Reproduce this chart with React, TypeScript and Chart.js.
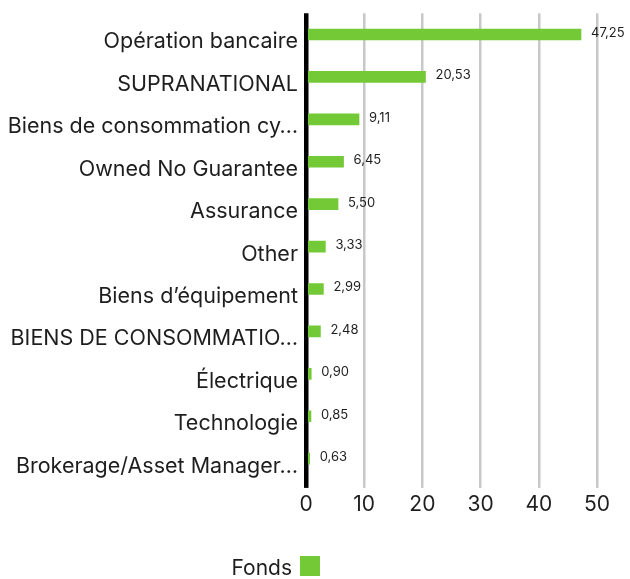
import React, { useEffect, useRef } from 'react';
import { Chart, registerables } from 'chart.js';

Chart.register(...registerables);

const categories = [
  'Opération bancaire',
  'SUPRANATIONAL',
  'Biens de consommation cy…',
  'Owned No Guarantee',
  'Assurance',
  'Other',
  'Biens d’équipement',
  'BIENS DE CONSOMMATIO…',
  'Électrique',
  'Technologie',
  'Brokerage/Asset Manager…',
];
const fondsValues = [47.25, 20.53, 9.11, 6.45, 5.5, 3.33, 2.99, 2.48, 0.9, 0.85, 0.63];
const xTickValues = [0, 10, 20, 30, 40, 50];
const seriesLabel = 'Fonds';

const GREEN = '#74C936';
const TEXT = '#1e1e1e';
const GRID = '#c8c8c8';
const FONT = 'Inter, "Noto Sans", sans-serif';

const fmt = (v: number) => v.toFixed(2).replace('.', ',');

export default function App() {
  const ref = useRef<HTMLCanvasElement>(null);

  useEffect(() => {
    const valueLabels = {
      id: 'valueLabels',
      afterDatasetsDraw(chart: any) {
        const ctx = chart.ctx;
        const meta = chart.getDatasetMeta(0);
        const data = chart.data.datasets[0].data as number[];
        ctx.save();
        ctx.font = `13px ${FONT}`;
        ctx.fillStyle = TEXT;
        ctx.textAlign = 'left';
        ctx.textBaseline = 'middle';
        meta.data.forEach((el: any, i: number) => {
          ctx.fillText(fmt(data[i]), el.x + 10, el.y - 1.5);
        });
        ctx.restore();
      },
    };

    const bottomLegend = {
      id: 'bottomLegend',
      afterDraw(chart: any) {
        const ctx = chart.ctx;
        const ds = chart.data.datasets[0];
        ctx.save();
        ctx.font = `21px ${FONT}`;
        ctx.fillStyle = TEXT;
        ctx.textAlign = 'right';
        ctx.textBaseline = 'alphabetic';
        ctx.fillText(ds.label, 292, 575);
        ctx.fillStyle = ds.backgroundColor;
        ctx.fillRect(300, 556, 20, 20);
        ctx.restore();
      },
    };

    const chart = new Chart(ref.current!, {
      type: 'bar',
      data: {
        labels: categories,
        datasets: [
          {
            label: seriesLabel,
            data: fondsValues,
            backgroundColor: GREEN,
            barThickness: 11,
          },
        ],
      },
      options: {
        indexAxis: 'y',
        animation: false,
        responsive: false,
        maintainAspectRatio: false,
        layout: { padding: { top: 13.3, right: 33, left: 0, bottom: 0 } },
        plugins: { legend: { display: false }, tooltip: { enabled: false } },
        scales: {
          x: {
            min: 0,
            max: 50,
            afterBuildTicks: (s: any) => {
              s.ticks = xTickValues.map((v) => ({ value: v }));
            },
            grid: {
              color: (c: any) => (c.tick && c.tick.value === 0 ? '#000' : GRID),
              lineWidth: (c: any) => (c.tick && c.tick.value === 0 ? 4.5 : 2.5),
              tickLength: 8,
              drawTicks: true,
            },
            border: { display: false },
            ticks: { font: { family: FONT, size: 21 }, color: TEXT, padding: 4, maxRotation: 0 },
            afterFit: (s: any) => {
              s.height = 99.1;
            },
          },
          y: {
            grid: { display: false, drawTicks: false },
            border: { display: false },
            ticks: {
              font: { family: FONT, size: 21.5 },
              color: TEXT,
              padding: 8,
              labelOffset: 7.5,
              autoSkip: false,
            },
            afterFit: (s: any) => {
              s.width = 306;
              s.paddingTop = 0;
              s.paddingBottom = 0;
            },
          },
        },
      },
      plugins: [valueLabels, bottomLegend],
    } as any);
    return () => chart.destroy();
  }, []);

  return (
    <div style={{ position: 'fixed', left: 0, top: 0, width: 630, height: 579 }}>
      <canvas ref={ref} width={630} height={579} style={{ display: 'block' }} />
    </div>
  );
}
